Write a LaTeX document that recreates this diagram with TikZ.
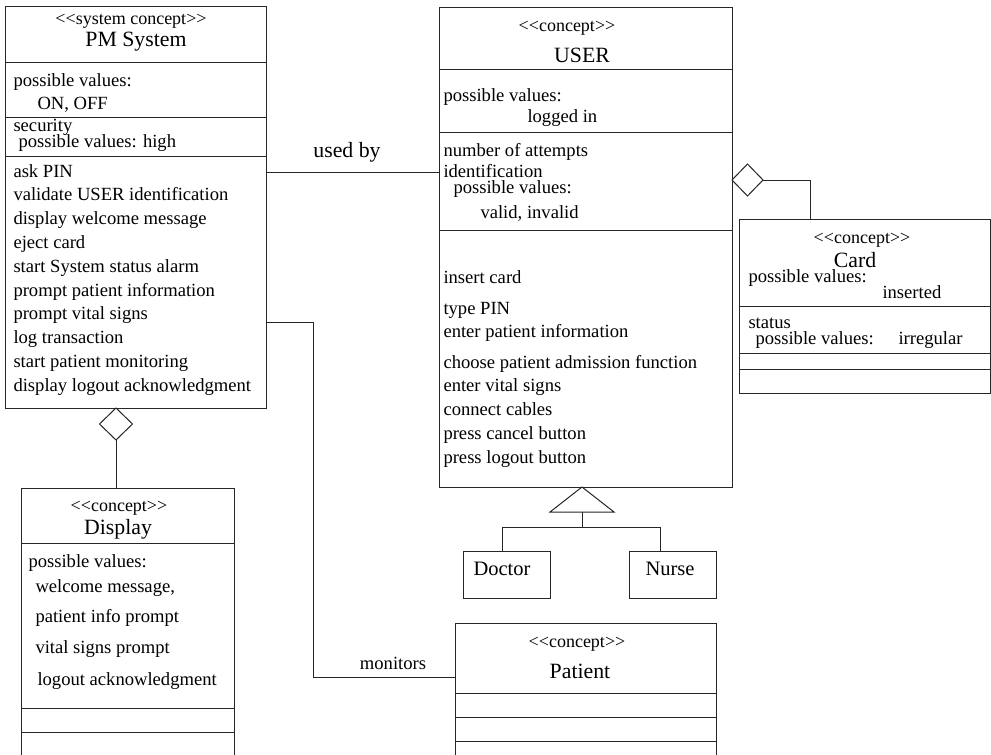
\documentclass[tikz,border=0pt]{standalone}
\usepackage{fontspec}
\setmainfont{Liberation Serif}
\usetikzlibrary{shapes.geometric}
\newcommand\stereotype[1]{{<}{<}#1{>}{>}}

\begin{document}
\begin{tikzpicture}[x=1pt, y=-1pt, line width=1pt,
  umlbox/.style={draw=black!85, rectangle, anchor=north west, inner sep=0pt, outer sep=0pt},
  agg/.style={draw=black!85, diamond, fill=white, inner sep=0pt, outer sep=0pt},
  wire/.style={draw=black!85},
  txt/.style={anchor=base west, inner sep=0pt, font=\fontsize{18.6}{22}\selectfont},
  stereo/.style={anchor=base, inner sep=0pt, font=\fontsize{18}{21}\selectfont},
  cname/.style={anchor=base, inner sep=0pt, font=\fontsize{21.8}{26}\selectfont}]

\useasboundingbox (0,0) rectangle (991,755);

% === PM System ===
\node[umlbox, minimum width=261pt, minimum height=402pt] (pm) at (5,6) {};
\foreach \y in {62,117,156} \draw[wire] (pm.west |- 0,\y) -- (pm.east |- 0,\y);
\node[stereo] (pmst) at (131,24) {\stereotype{system concept}};
\node[cname] (pmname) at (136,46) {PM System};
\node[txt] (pmpv) at (13,86) {possible values:};
\node[txt] (pmon) at (37,109) {ON, OFF};
\node[txt] (pmsec) at (13,131) {security};
\node[txt] (pmsecpv) at (18,147) {possible values: high};
\foreach \t [count=\i from 0] in {ask PIN, validate USER identification,
    display welcome message, eject card, start System status alarm,
    prompt patient information, prompt vital signs, log transaction,
    start patient monitoring, display logout acknowledgment}
  \node[txt] at (13,{177+23.8*\i}) {\t};

% === USER ===
\node[umlbox, minimum width=293pt, minimum height=480pt] (user) at (439,7) {};
\foreach \y in {69,132,230} \draw[wire] (user.west |- 0,\y) -- (user.east |- 0,\y);
\node[stereo] (userst) at (567,31) {\stereotype{concept}};
\node[cname] (username) at (582,62) {USER};
\node[txt] (userpv) at (443,101) {possible values:};
\node[txt] (userlog) at (527,122) {logged in};
\node[txt] (usernum) at (443,156) {number of attempts};
\node[txt] (userid) at (443,177) {identification};
\node[txt] (useridpv) at (453,193) {possible values:};
\node[txt] (useridval) at (480,218) {valid, invalid};
\node[txt] at (443,283) {insert card};
\node[txt] at (443,314) {type PIN};
\node[txt] at (443,337) {enter patient information};
\foreach \t [count=\i from 0] in {choose patient admission function,
    enter vital signs, connect cables, press cancel button, press logout button}
  \node[txt] at (443,{368+23.8*\i}) {\t};

% === Card ===
\node[umlbox, minimum width=251pt, minimum height=174pt] (card) at (739,219) {};
\foreach \y in {306,353,369} \draw[wire] (card.west |- 0,\y) -- (card.east |- 0,\y);
\node[stereo] (cardst) at (862,243) {\stereotype{concept}};
\node[cname] (cardname) at (855,267) {Card};
\node[txt] (cardpv) at (748,282) {possible values:};
\node[txt] (cardins) at (882,298) {inserted};
\node[txt] (cardstat) at (748,328) {status};
\node[txt] (cardstatpv) at (755,344) {possible values:};
\node[txt] (cardirr) at (898,344) {irregular};

% === Display ===
\node[umlbox, minimum width=213pt, minimum height=290pt] (display) at (21,488) {};
\foreach \y in {543,708,732} \draw[wire] (display.west |- 0,\y) -- (display.east |- 0,\y);
\node[stereo] (dispst) at (119,511) {\stereotype{concept}};
\node[cname] (dispname) at (118,534) {Display};
\node[txt] (disppv) at (28,567) {possible values:};
\node[txt] at (35,592) {welcome message,};
\node[txt] at (35,622) {patient info prompt};
\node[txt] at (35,653) {vital signs prompt};
\node[txt] at (37,685) {logout acknowledgment};

% === Patient ===
\node[umlbox, minimum width=261pt, minimum height=150pt] (patient) at (455,623) {};
\foreach \y in {693,717,741} \draw[wire] (patient.west |- 0,\y) -- (patient.east |- 0,\y);
\node[stereo] (patst) at (577,647) {\stereotype{concept}};
\node[cname] (patname) at (580,678) {Patient};

% === Doctor / Nurse ===
\node[umlbox, minimum width=87pt, minimum height=47pt] (doctor) at (463,551) {};
\node[cname, font=\fontsize{20.5}{24}\selectfont] at (502,575) {Doctor};
\node[umlbox, minimum width=87pt, minimum height=47pt] (nurse) at (629,551) {};
\node[cname, font=\fontsize{20.5}{24}\selectfont] at (670,575) {Nurse};

% === Connectors ===
% used by
\draw[wire] (pm.east |- 0,172) -- (user.west |- 0,172);
\node[cname] (usedby) at (347,157) {used by};
% monitors
\draw[wire] (pm.east |- 0,322) -| (313,677) -- (patient.west |- 0,677);
\node[txt, anchor=base] (monitors) at (393,669) {monitors};
% PM System <>-- Display
\node[agg, minimum width=33pt, minimum height=32pt, anchor=north] (pmagg) at (116,0 |- pm.south) {};
\draw[wire] (pmagg.south) -- (pmagg.south |- display.north);
% USER <>-- Card
\node[agg, minimum width=31pt, minimum height=32pt, anchor=west] (useragg) at (user.east |- 0,180) {};
\coordinate (cardtop) at (810,0 |- card.north);
\draw[wire] (useragg.east) -| (cardtop);
% generalisation USER <|-- Doctor, Nurse
\coordinate (genapex) at (582,0 |- user.south);
\draw[wire] (genapex) -- ++(-32,25) -- ++(64,0) -- cycle;
\draw[wire] (582,512) -- (582,527);
\draw[wire] (502,0 |- doctor.north) |- (660,527) -- (660,0 |- nurse.north);

\end{tikzpicture}
\end{document}
